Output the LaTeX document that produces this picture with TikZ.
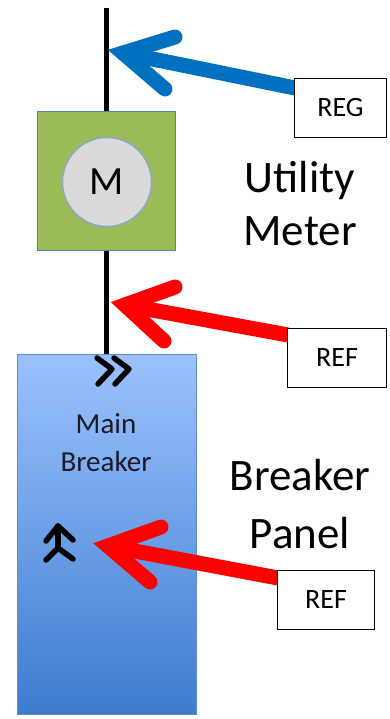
\documentclass[tikz,border=0pt]{standalone}
\usepackage{fontspec}
\setmainfont{Carlito}
\usetikzlibrary{calc}
\definecolor{regblue}{HTML}{0070C0}
\definecolor{refred}{HTML}{FF0000}
\definecolor{metergreen}{HTML}{9BBB59}
\definecolor{meteredge}{HTML}{4F81BD}
\definecolor{circfill}{HTML}{DADADA}
\definecolor{circedge}{HTML}{8FA8C8}
\definecolor{panTop}{HTML}{9BC2FF}
\definecolor{panBot}{HTML}{3D7CCD}
\definecolor{panEdge}{HTML}{5A8AD0}
\definecolor{textdark}{HTML}{1A1A2A}
\pgfdeclarelayer{back}
\pgfdeclarelayer{arrowlayer}
\pgfsetlayers{back,arrowlayer,main}
\begin{document}
\begin{tikzpicture}[x=1pt,y=-1pt,
  wire/.style={line width=5pt,black},
  meterbox/.style={draw=meteredge,line width=1.5pt,fill=metergreen,minimum width=138pt,minimum height=139pt,inner sep=0pt},
  metercirc/.style={circle,draw=circedge,line width=1.5pt,fill=circfill,minimum size=89pt,inner sep=0pt,font=\fontsize{40}{48}\selectfont},
  panelbox/.style={draw=panEdge,line width=1pt,top color=panTop,bottom color=panBot,minimum width=179pt,minimum height=360pt,inner sep=0pt},
  tagbox/.style={draw=black,line width=1.5pt,fill=white,minimum height=59pt,inner sep=0pt,font=\fontsize{28}{33}\selectfont},
  bigtext/.style={anchor=base,inner sep=0pt,font=\fontsize{45}{54}\selectfont},
  smalltext/.style={anchor=base,inner sep=0pt,font=\fontsize{29}{35}\selectfont,text=textdark},
  shaft/.style={line width=15pt,line cap=round},
  arrowhead/.style={line width=15pt,line cap=round,line join=miter},
  brk/.style={line width=5.5pt,line cap=round,line join=round}
]
\useasboundingbox (0,0) rectangle (390,719);
\begin{pgfonlayer}{back}
  \node[panelbox] (panel) at (107,534.5) {};
  \node[meterbox] (meter) at (106.5,181) {};
  \node[metercirc] (mcirc) at (107,182) {M};
  \coordinate (feed) at (106.5,8);
  \draw[wire] (feed) -- (meter.north);
  \draw[wire] (meter.south) -- (meter.south |- panel.north);
  \node[bigtext] (utility) at (300,193) {Utility};
  \node[bigtext] (metert) at (300,245) {Meter};
  \node[bigtext] (breakert) at (300,490) {Breaker};
  \node[bigtext] (panelt) at (300,548) {Panel};
  \node[smalltext] (mainA) at (106,433) {Main};
  \node[smalltext] (mainB) at (106,471) {Breaker};
  % main breaker symbol
  \draw[brk] (97,358) -- (112,369) -- (98,384);
  \draw[brk] (114,358) -- (129,369) -- (115,384);
  % branch breaker symbol
  \draw[brk] (46,541) -- (58,526) -- (73,540);
  \draw[brk] (58,526) -- (58,547);
  \draw[brk] (46,560) -- (58,548) -- (73,559);
\end{pgfonlayer}
\node[tagbox,minimum width=92pt] (reg) at (340.5,108) {REG};
\node[tagbox,minimum width=99pt] (refA) at (337,358) {REF};
\node[tagbox,minimum width=97pt] (refB) at (326,600) {REF};
\begin{pgfonlayer}{arrowlayer}
  \coordinate (regtip) at (123,53);
  \coordinate (regarmA) at (175,37);
  \coordinate (regarmB) at (165,89);
  \draw[shaft,regblue] (regtip) -- ($(reg.north west)+(0,10)$);
  \draw[arrowhead,regblue] (regarmA) -- (regtip) -- (regarmB);
  \coordinate (refAtip) at (125,305);
  \coordinate (refAarmA) at (175,287);
  \coordinate (refAarmB) at (164,341);
  \draw[shaft,refred] (refAtip) -- ($(refA.north west)+(0,7)$);
  \draw[arrowhead,refred] (refAarmA) -- (refAtip) -- (refAarmB);
  \coordinate (refBtip) at (108,546);
  \coordinate (refBarmA) at (161,527);
  \coordinate (refBarmB) at (150,582);
  \draw[shaft,refred] (refBtip) -- ($(refB.north west)+(0,8)$);
  \draw[arrowhead,refred] (refBarmA) -- (refBtip) -- (refBarmB);
\end{pgfonlayer}
\end{tikzpicture}
\end{document}
